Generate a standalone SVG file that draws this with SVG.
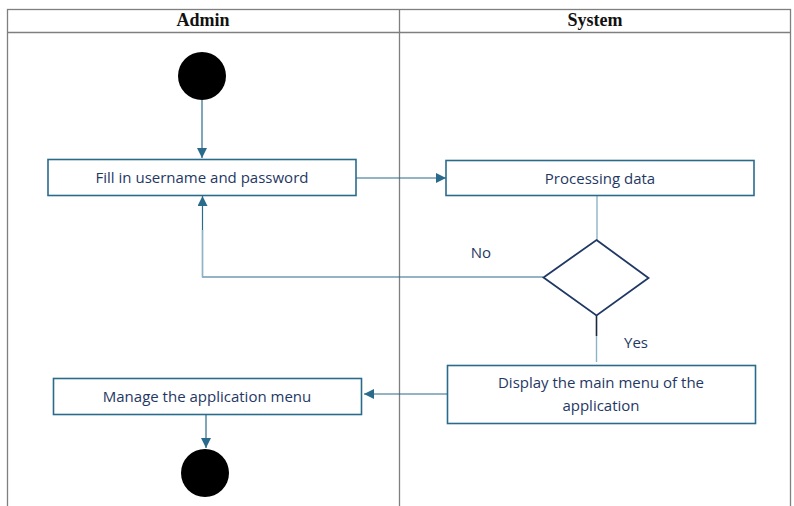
<svg xmlns="http://www.w3.org/2000/svg" width="794" height="506" viewBox="0 0 794 506">
<style>
.lane{fill:none;stroke:#7f7f7f;stroke-width:1.3}
.hdr{font-family:"Liberation Serif",serif;font-weight:bold;font-size:18px;fill:#111;text-anchor:middle}
.box{fill:#fff;stroke:#2a6b8c;stroke-width:1.6}
.lbl{font-family:"Open Sans","Liberation Sans",sans-serif;font-size:15px;fill:#1f3864;text-anchor:middle}
.conn{fill:none;stroke:#2a6b8c;stroke-width:1.2}
.light{fill:none;stroke:#8db3c7;stroke-width:1.4}
</style>
<defs>
<marker id="arr" viewBox="0 0 10 10" refX="10" refY="5" markerWidth="10" markerHeight="10" markerUnits="userSpaceOnUse" orient="auto">
<path d="M0,0 L10,5 L0,10 Z" fill="#2a6b8c"/>
</marker>
</defs>
<rect width="794" height="506" fill="#fff"/>
<g id="lanes">
<rect class="lane" x="7.5" y="9.5" width="783" height="500"/>
<line class="lane" x1="7.5" y1="32.5" x2="790.5" y2="32.5"/>
<line class="lane" x1="399.5" y1="9.5" x2="399.5" y2="506"/>
<text class="hdr" x="203" y="26">Admin</text>
<text class="hdr" x="595" y="26">System</text>
</g>
<g id="connectors">
<line class="conn" x1="202" y1="100" x2="202" y2="158" marker-end="url(#arr)"/>
<line class="conn" x1="356" y1="178" x2="446" y2="178" marker-end="url(#arr)"/>
<line class="light" x1="597" y1="196" x2="597" y2="240"/>
<polyline class="conn" points="543,277 202.5,277 202.5,196" marker-end="url(#arr)"/>
<line class="light" x1="202.5" y1="230" x2="202.5" y2="277"/>
<line x1="596.5" y1="315" x2="596.5" y2="336" stroke="#1a2a3a" stroke-width="1.6"/>
<line class="light" x1="596.5" y1="336" x2="596.5" y2="362"/>
<line class="conn" x1="447" y1="394" x2="364" y2="394" marker-end="url(#arr)"/>
<line class="conn" x1="206" y1="414" x2="206" y2="448" marker-end="url(#arr)"/>
<text class="lbl" x="481" y="258">No</text>
<text class="lbl" x="636" y="348">Yes</text>
</g>
<g id="start">
<circle cx="202" cy="76" r="24" fill="#000"/>
</g>
<g id="fill">
<rect class="box" x="48" y="159.5" width="308" height="36"/>
<text class="lbl" x="202" y="183">Fill in username and password</text>
</g>
<g id="process">
<rect class="box" x="446" y="160.5" width="308" height="35"/>
<text class="lbl" x="600" y="184">Processing data</text>
</g>
<g id="decision">
<polygon points="596.5,240 648.5,278 596.5,315.5 543.5,277.5" fill="#fff" stroke="#1f3864" stroke-width="1.8"/>
</g>
<g id="display">
<rect class="box" x="447.5" y="365.5" width="308" height="58"/>
<text class="lbl" x="601" y="388">Display the main menu of the</text>
<text class="lbl" x="601" y="411">application</text>
</g>
<g id="manage">
<rect class="box" x="53.5" y="378.5" width="308" height="36"/>
<text class="lbl" x="207" y="402">Manage the application menu</text>
</g>
<g id="end">
<circle cx="205" cy="473" r="24" fill="#000"/>
</g>
</svg>
